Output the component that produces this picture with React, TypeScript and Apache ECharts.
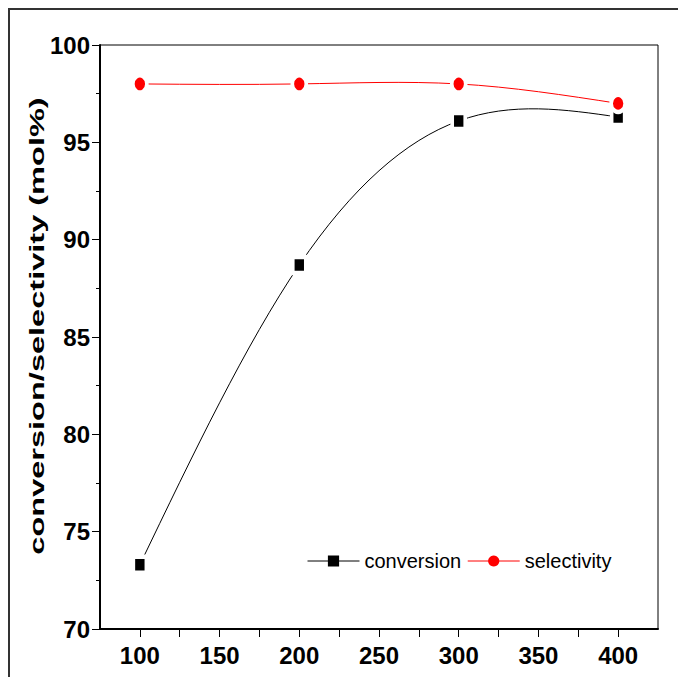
import React, { useEffect, useRef } from "react";
import * as echarts from "echarts";

const temperatures = [100, 200, 300, 400];
const conversion = [73.3, 88.7, 96.1, 96.3];
const selectivity = [98.0, 98.0, 98.0, 97.0];
const yAxisTitle = "conversion/selectivity (mol%)";
const seriesNames = ["conversion", "selectivity"];

// natural cubic spline: end-point slopes of every segment (as Origin's "Spline" connector)
function splineSlopes(xs: number[], ys: number[]) {
  const n = xs.length;
  const h: number[] = [];
  for (let i = 0; i < n - 1; i++) h.push(xs[i + 1] - xs[i]);
  const M = new Array(n).fill(0);
  if (n > 2) {
    const a: number[] = [], b: number[] = [], c: number[] = [], d: number[] = [];
    for (let i = 1; i < n - 1; i++) {
      a.push(h[i - 1]);
      b.push(2 * (h[i - 1] + h[i]));
      c.push(h[i]);
      d.push(6 * ((ys[i + 1] - ys[i]) / h[i] - (ys[i] - ys[i - 1]) / h[i - 1]));
    }
    const m = b.length;
    for (let i = 1; i < m; i++) {
      const w = a[i] / b[i - 1];
      b[i] -= w * c[i - 1];
      d[i] -= w * d[i - 1];
    }
    const sol = new Array(m).fill(0);
    sol[m - 1] = d[m - 1] / b[m - 1];
    for (let i = m - 2; i >= 0; i--) sol[i] = (d[i] - c[i] * sol[i + 1]) / b[i];
    for (let i = 0; i < m; i++) M[i + 1] = sol[i];
  }
  const segs: { left: number; right: number }[] = [];
  for (let i = 0; i < n - 1; i++) {
    const s = (ys[i + 1] - ys[i]) / h[i];
    segs.push({
      left: s - (h[i] * (2 * M[i] + M[i + 1])) / 6,
      right: s + (h[i] * (M[i] + 2 * M[i + 1])) / 6,
    });
  }
  return segs;
}

function splineSeries(xs: number[], ys: number[], color: string) {
  const segs = splineSlopes(xs, ys);
  return {
    type: "custom",
    silent: true,
    z: 1,
    encode: { x: 0, y: 1 },
    data: xs.map((x, i) => [x, ys[i]]),
    renderItem: (params: any, api: any) => {
      const i = params.dataIndex;
      if (i >= xs.length - 1) return null;
      const x0 = xs[i], y0 = ys[i], x1 = xs[i + 1], y1 = ys[i + 1];
      const hh = (x1 - x0) / 3;
      const p0 = api.coord([x0, y0]);
      const c0 = api.coord([x0 + hh, y0 + hh * segs[i].left]);
      const c1 = api.coord([x1 - hh, y1 - hh * segs[i].right]);
      const p1 = api.coord([x1, y1]);
      return {
        type: "bezierCurve",
        shape: {
          x1: p0[0], y1: p0[1], x2: p1[0], y2: p1[1],
          cpx1: c0[0], cpy1: c0[1], cpx2: c1[0], cpy2: c1[1],
        },
        style: { stroke: color, fill: "none", lineWidth: 1 },
      };
    },
  };
}

export default function App() {
  const ref = useRef<HTMLDivElement>(null);
  useEffect(() => {
    if (!ref.current) return;
    const chart = echarts.init(ref.current, null, { renderer: "svg" });
    const sans = "Liberation Sans";
    chart.setOption({
      animation: false,
      backgroundColor: "#ffffff",
      grid: {
        left: 100,
        right: 20,
        top: 45,
        bottom: 48,
        show: true,
        borderColor: "#000",
        borderWidth: 1,
        backgroundColor: "transparent",
      },
      legend: {
        left: 307,
        top: 551,
        padding: 0,
        itemWidth: 52,
        itemHeight: 14,
        itemGap: 6,
        textStyle: { fontFamily: sans, fontSize: 20, color: "#000" },
        lineStyle: { width: 1, opacity: 1 },
        itemStyle: { borderWidth: 0 },
        data: seriesNames,
      },
      xAxis: {
        type: "value",
        min: 75,
        max: 425,
        interval: 25,
        axisLine: { show: true, lineStyle: { color: "#000", width: 2 } },
        axisTick: { show: true, inside: false, length: 8, lineStyle: { color: "#000", width: 1 } },
        splitLine: { show: false },
        axisLabel: {
          margin: 14,
          fontFamily: sans,
          fontWeight: "bold",
          fontSize: 24,
          color: "#000",
          showMinLabel: false,
          showMaxLabel: false,
          formatter: (v: number) => (v % 50 === 0 && v >= 100 && v <= 400 ? String(v) : ""),
        },
      },
      yAxis: {
        type: "value",
        min: 70,
        max: 100,
        interval: 5,
        axisLine: { show: true, lineStyle: { color: "#000", width: 2 } },
        axisTick: { show: true, inside: false, length: 8, lineStyle: { color: "#000", width: 1 } },
        minorTick: { show: true, splitNumber: 2, length: 4, lineStyle: { color: "#000", width: 1 } },
        splitLine: { show: false },
        axisLabel: {
          margin: 10,
          fontFamily: sans,
          fontWeight: "bold",
          fontSize: 24,
          color: "#000",
        },
      },
      graphic: [
        {
          type: "rect",
          shape: { x: 9, y: 9, width: 700, height: 700 },
          style: { fill: "none", stroke: "#333", lineWidth: 2 },
          silent: true,
        },
        {
          type: "text",
          x: 37,
          y: 326,
          rotation: Math.PI / 2,
          scaleX: 1.55,
          scaleY: 1,
          style: {
            text: yAxisTitle,
            fontFamily: sans,
            fontWeight: "bold",
            fontSize: 21,
            fill: "#000",
            align: "center",
            verticalAlign: "middle",
          },
        },
      ],
      series: [
        splineSeries(temperatures, conversion, "#000000"),
        splineSeries(temperatures, selectivity, "#ff0000"),
        {
          name: seriesNames[0],
          type: "line",
          z: 3,
          symbol: "rect",
          symbolSize: [13, 16],
          itemStyle: { color: "#000", borderColor: "#fff", borderWidth: 4 },
          lineStyle: { color: "#000", width: 1, opacity: 0 },
          data: temperatures.map((t, i) => [t, conversion[i]]),
        },
        {
          name: seriesNames[1],
          type: "line",
          z: 3,
          symbol: "circle",
          symbolSize: [14, 17],
          itemStyle: { color: "#ff0000", borderColor: "#fff", borderWidth: 4 },
          lineStyle: { color: "#ff0000", width: 1, opacity: 0 },
          data: temperatures.map((t, i) => [t, selectivity[i]]),
        },
      ],
    });
    return () => chart.dispose();
  }, []);
  return (
    <div
      ref={ref}
      style={{ position: "fixed", left: 0, top: 0, width: 678, height: 677 }}
    />
  );
}
